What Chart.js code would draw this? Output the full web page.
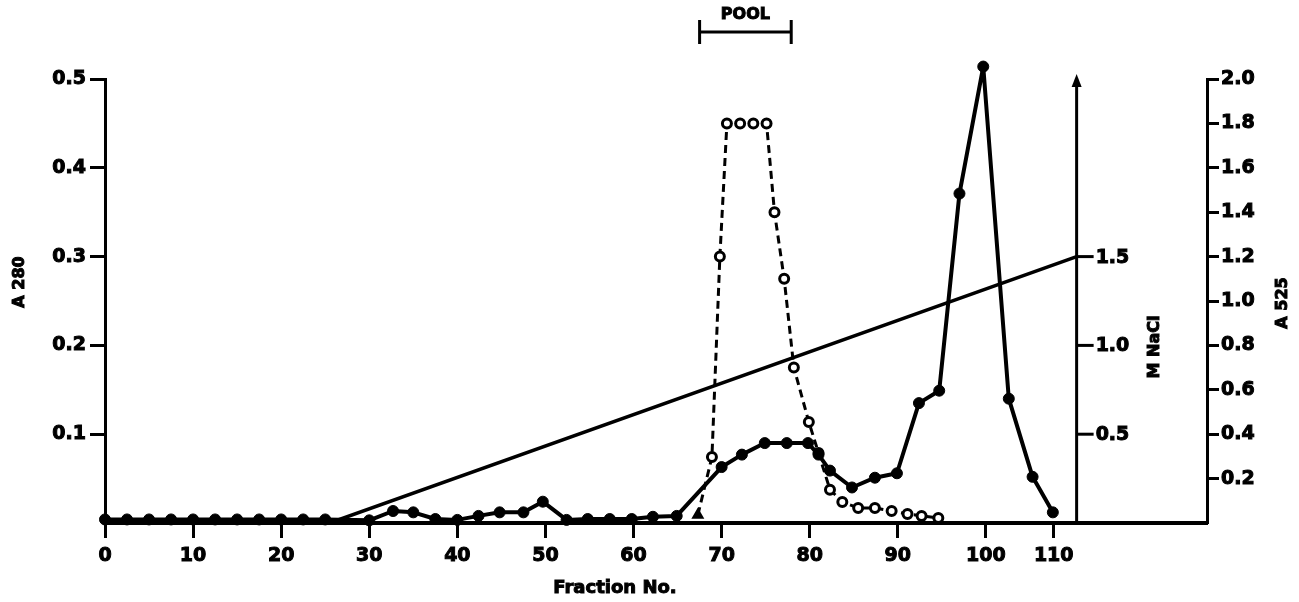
<!DOCTYPE html>
<html>
<head>
<meta charset="utf-8">
<title>Fraction No.</title>
<script src="https://cdn.jsdelivr.net/npm/chart.js@4.4.1/dist/chart.umd.min.js"></script>
<style>
  html, body { margin: 0; padding: 0; background: #ffffff; }
  #chart { display: block; }
</style>
</head>
<body>
<canvas id="chart" width="1299" height="602"></canvas>
<script>
/**
 * Perfil de elución: A280 (línea sólida), A525 (línea punteada) y gradiente de NaCl.
 * Valores.
 */

// A 280 - eje izquierdo
const a280Fractions = [0, 2.5, 5, 7.5, 10, 12.5, 15, 17.5, 20, 22.5, 25,
    30, 32.7, 35, 37.5, 40, 42.4, 44.8, 47.5, 49.7, 52.4, 54.8, 57.3, 59.8, 62.2, 64.9,
    70, 72.3, 74.9, 77.4, 79.8, 81, 82.3, 84.8, 87.4, 89.9, 92.4, 94.7, 97, 99.7, 102.6, 105.3, 107.6];
const a280Values = [0.004, 0.004, 0.004, 0.004, 0.004, 0.004, 0.004, 0.004, 0.004, 0.004, 0.004,
    0.003, 0.0135, 0.012, 0.0045, 0.0035, 0.008, 0.012, 0.012, 0.024, 0.0035, 0.0045, 0.0045, 0.0045, 0.007, 0.008,
    0.063, 0.077, 0.09, 0.09, 0.09, 0.077, 0.059, 0.04, 0.051, 0.056, 0.135, 0.149, 0.371, 0.514, 0.14, 0.052, 0.012];

// A 525 - eje derecho
const a525Fractions = [67.3, 68.9, 69.8, 70.6, 72.1, 73.6, 75.1, 76.0, 77.1, 78.2,
    79.9, 81.0, 82.3, 83.7, 85.5, 87.4, 89.3, 91.1, 92.7, 94.6];
const a525Values = [0.036, 0.297, 1.2, 1.8, 1.8, 1.8, 1.8, 1.4, 1.1, 0.7,
    0.455, 0.315, 0.15, 0.095, 0.068, 0.068, 0.054, 0.041, 0.032, 0.023];

// Gradiente M NaCl
const naclFractions = [0, 25.5, 110.3];
const naclValues = [0, 0, 1.5];

// Marcas de ejes
const xTickValues = [0, 10, 20, 30, 40, 50, 60, 70, 80, 90, 100, 107.7];
const xTickLabels = ['0', '10', '20', '30', '40', '50', '60', '70', '80', '90', '100', '110'];
const a280Ticks = [0.1, 0.2, 0.3, 0.4, 0.5];
const a525Ticks = [0.2, 0.4, 0.6, 0.8, 1.0, 1.2, 1.4, 1.6, 1.8, 2.0];
const naclTicks = [0.5, 1.0, 1.5];
const naclAxisAt = 110.3;
const poolRange = [67.5, 77.9];

const FONT = "'DejaVu Sans', sans-serif";
const INK = '#000000';

const toPoints = (xs, ys) => xs.map((x, i) => ({ x: x, y: ys[i] }));
const fixedTicks = (values) => (scale) => { scale.ticks = values.map(v => ({ value: v })); };

// Texto con contorno para imitar la tipografía gruesa del original
function heavyText(ctx, text, x, y) {
    ctx.lineWidth = 1;
    ctx.strokeText(text, x, y);
    ctx.fillText(text, x, y);
}

// Texto rotado (lectura de abajo hacia arriba)
function rotatedText(ctx, text, x, y, size) {
    ctx.save();
    ctx.translate(x, y);
    ctx.rotate(-Math.PI / 2);
    ctx.font = `bold ${size}px ${FONT}`;
    ctx.textAlign = 'center';
    ctx.textBaseline = 'middle';
    heavyText(ctx, text, 0, 0);
    ctx.restore();
}

// Puntos que sobresalen del área (el pico de A280 pasa de 0.5)
const overflowPoints = {
    id: 'overflowPoints',
    afterDatasetsDraw(chart) {
        const meta = chart.getDatasetMeta(1);
        const top = chart.chartArea.top;
        meta.data.forEach(pt => { if (pt.y < top + 3) pt.draw(chart.ctx); });
    }
};

// Eje de NaCl dentro del área, corchete POOL y títulos de ejes
const extrasPlugin = {
    id: 'extras',
    afterDraw(chart) {
        const { ctx, chartArea, scales } = chart;
        const xs = scales.x;
        const nacl = scales.yNacl;
        ctx.save();
        ctx.strokeStyle = INK;
        ctx.fillStyle = INK;
        ctx.lineWidth = 3;

        const ax = xs.getPixelForValue(naclAxisAt);
        const top = nacl.getPixelForValue(nacl.max);
        ctx.beginPath();
        ctx.moveTo(ax, chartArea.bottom);
        ctx.lineTo(ax, top + 6);
        ctx.stroke();
        ctx.beginPath();
        ctx.moveTo(ax, top - 5);
        ctx.lineTo(ax - 5, top + 8);
        ctx.lineTo(ax + 5, top + 8);
        ctx.closePath();
        ctx.fill();

        ctx.font = `bold 19px ${FONT}`;
        ctx.textAlign = 'left';
        ctx.textBaseline = 'middle';
        naclTicks.forEach(v => {
            const y = nacl.getPixelForValue(v);
            ctx.lineWidth = 3;
            ctx.beginPath();
            ctx.moveTo(ax, y);
            ctx.lineTo(ax + 17, y);
            ctx.stroke();
            heavyText(ctx, v.toFixed(1), ax + 19, y + 1);
        });

        // POOL
        const p0 = xs.getPixelForValue(poolRange[0]);
        const p1 = xs.getPixelForValue(poolRange[1]);
        ctx.lineWidth = 3;
        ctx.beginPath();
        ctx.moveTo(p0, 32); ctx.lineTo(p1, 32);
        ctx.moveTo(p0, 20); ctx.lineTo(p0, 44);
        ctx.moveTo(p1, 20); ctx.lineTo(p1, 44);
        ctx.stroke();
        ctx.font = `bold 16px ${FONT}`;
        ctx.textAlign = 'center';
        heavyText(ctx, 'POOL', (p0 + p1) / 2, 15);

        // títulos
        ctx.font = `bold 18px ${FONT}`;
        heavyText(ctx, 'Fraction No.', 615, 588);
        rotatedText(ctx, 'A 280', 20, 282, 16);
        rotatedText(ctx, 'M NaCl', 1155, 347, 16);
        rotatedText(ctx, 'A 525', 1283, 303, 16);
        ctx.restore();
    }
};

const tickFont = { family: FONT, size: 19, weight: 'bold' };
const tickStyle = { color: INK, font: tickFont, textStrokeColor: INK, textStrokeWidth: 1 };

new Chart(document.getElementById('chart'), {
    type: 'line',
    data: {
        datasets: [
            {
                label: 'M NaCl',
                data: toPoints(naclFractions, naclValues),
                yAxisID: 'yNacl',
                borderColor: INK,
                borderWidth: 3.5,
                pointRadius: 0,
                tension: 0
            },
            {
                label: 'A 280',
                data: toPoints(a280Fractions, a280Values),
                yAxisID: 'y',
                clip: false,
                borderColor: INK,
                borderWidth: 4,
                borderJoinStyle: 'round',
                borderCapStyle: 'round',
                pointRadius: 5.5,
                pointBackgroundColor: INK,
                pointBorderColor: INK,
                pointBorderWidth: 1,
                tension: 0
            },
            {
                label: 'A 525',
                data: toPoints(a525Fractions, a525Values),
                yAxisID: 'yA525',
                borderColor: INK,
                borderWidth: 3,
                borderDash: [8, 5],
                pointRadius: 4.5,
                pointStyle: a525Values.map((v, i) => i === 0 ? 'triangle' : 'circle'),
                pointBackgroundColor: a525Values.map((v, i) => i === 0 ? INK : '#ffffff'),
                pointBorderColor: INK,
                pointBorderWidth: 3,
                tension: 0
            }
        ]
    },
    options: {
        responsive: false,
        animation: false,
        layout: { padding: { top: 79, left: 0, right: 0, bottom: 0 } },
        plugins: { legend: { display: false }, tooltip: { enabled: false } },
        scales: {
            x: {
                type: 'linear',
                min: 0,
                max: 125.1,
                bounds: 'data',
                afterBuildTicks: fixedTicks(xTickValues),
                afterFit: (s) => { s.height = 79; },
                ticks: Object.assign({
                    autoSkip: false,
                    maxRotation: 0,
                    padding: 7,
                    callback: (v, i) => xTickLabels[i]
                }, tickStyle),
                grid: { drawOnChartArea: false, tickLength: 15, tickWidth: 3, tickColor: INK },
                border: { width: 4, color: INK }
            },
            y: {
                position: 'left',
                min: 0,
                max: 0.5,
                afterBuildTicks: fixedTicks(a280Ticks),
                afterFit: (s) => { s.width = 105; },
                ticks: Object.assign({ padding: 4, callback: (v) => v.toFixed(1) }, tickStyle),
                grid: { drawOnChartArea: false, tickLength: 15, tickWidth: 3, tickColor: INK },
                border: { width: 3, color: INK }
            },
            yA525: {
                position: 'right',
                min: 0,
                max: 2.0,
                afterBuildTicks: fixedTicks(a525Ticks),
                afterFit: (s) => { s.width = 92; },
                ticks: Object.assign({ padding: 2, callback: (v) => v.toFixed(1) }, tickStyle),
                grid: { drawOnChartArea: false, tickLength: 12, tickWidth: 3, tickColor: INK },
                border: { width: 3, color: INK }
            },
            yNacl: {
                display: false,
                min: 0,
                max: 2.5
            }
        }
    },
    plugins: [overflowPoints, extrasPlugin]
});
</script>
</body>
</html>
